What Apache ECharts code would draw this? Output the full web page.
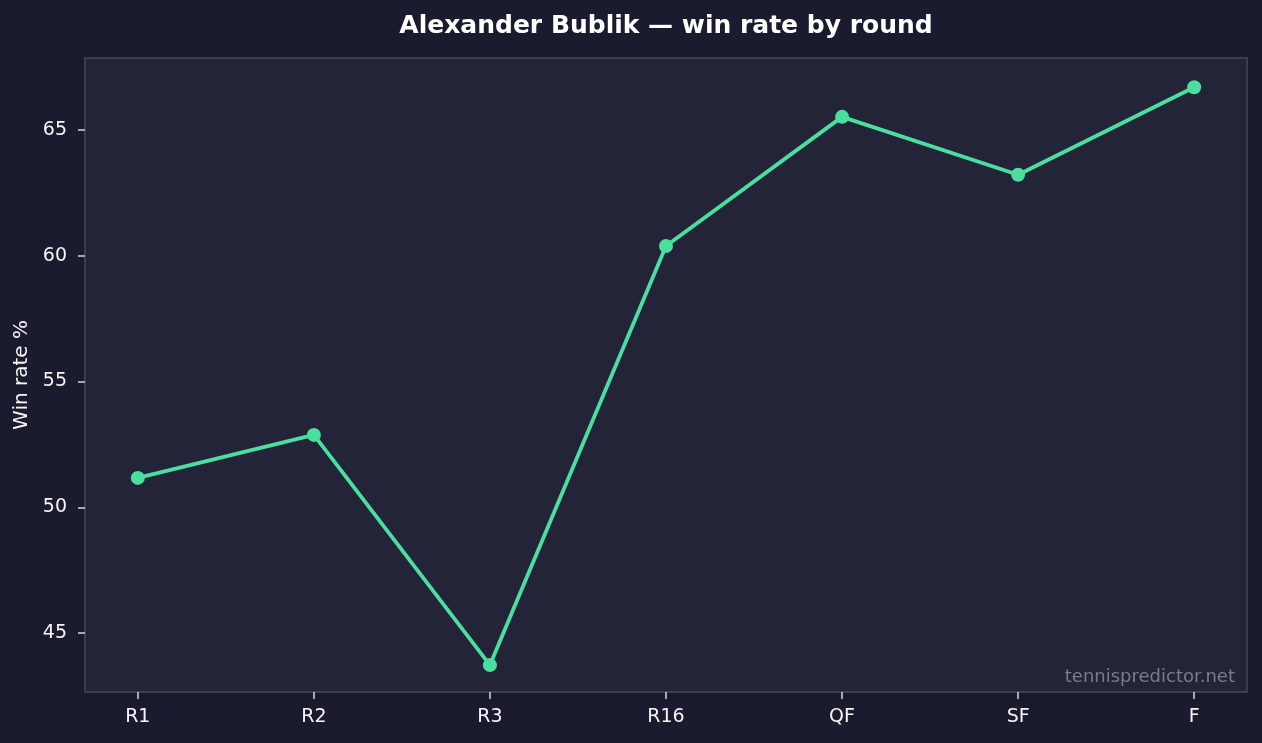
<!DOCTYPE html>
<html>
<head>
<meta charset="utf-8">
<script src="https://cdn.jsdelivr.net/npm/echarts@6/dist/echarts.min.js"></script>
<style>
html,body{margin:0;padding:0;background:#1a1b2e;}
#c{width:1262px;height:743px;}
</style>
</head>
<body>
<div id="c"></div>
<script>
const rounds = ['R1', 'R2', 'R3', 'R16', 'QF', 'SF', 'F'];
const winRate = [51.17, 52.88, 43.73, 60.39, 65.52, 63.22, 66.70];
const yTicks = [45, 50, 55, 60, 65];
const titleText = 'Alexander Bublik — win rate by round';
const yName = 'Win rate %';
const watermark = 'tennispredictor.net';

const xIdx = rounds.map((_, i) => i);
const seriesData = winRate.map((v, i) => [i, v]);
const FONT = 'DejaVu Sans';

const chart = echarts.init(document.getElementById('c'), null, {renderer: 'canvas'});
chart.setOption({
  backgroundColor: '#1a1b2e',
  animation: false,
  title: {
    text: titleText,
    left: 666,
    textAlign: 'center',
    top: 14,
    padding: 0,
    textStyle: {color: '#ffffff', fontFamily: FONT, fontWeight: 'bold', fontSize: 25}
  },
  grid: {
    left: 85, right: 15, top: 58, bottom: 51,
    containLabel: false,
    outerBoundsMode: 'none',
    show: true,
    backgroundColor: '#232438',
    borderColor: '#47485a',
    borderWidth: 1.5
  },
  xAxis: {
    type: 'value',
    min: -0.3,
    max: 6.3,
    splitLine: {show: false},
    axisLine: {show: false, onZero: false},
    axisTick: {show: true, customValues: xIdx, length: 7, lineStyle: {color: '#d8d8d8', width: 1.5}},
    axisLabel: {
      customValues: xIdx,
      formatter: v => rounds[Math.round(v)],
      color: '#f4f4f4', fontFamily: FONT, fontSize: 19, margin: 16
    }
  },
  yAxis: {
    type: 'value',
    min: 42.66,
    max: 67.86,
    name: yName,
    nameLocation: 'middle',
    nameGap: 51,
    nameRotate: 90,
    nameTextStyle: {color: '#f4f4f4', fontFamily: FONT, fontSize: 20},
    splitLine: {show: false},
    axisLine: {show: false, onZero: false},
    axisTick: {show: true, customValues: yTicks, length: 7, lineStyle: {color: '#d8d8d8', width: 1.5}},
    axisLabel: {
      customValues: yTicks,
      color: '#f4f4f4', fontFamily: FONT, fontSize: 19, margin: 18
    }
  },
  series: [{
    type: 'line',
    data: seriesData,
    symbol: 'circle',
    symbolSize: 14,
    lineStyle: {color: '#4ade9f', width: 3.8},
    itemStyle: {color: '#4ade9f'},
    z: 3
  }],
  graphic: [{
    type: 'text',
    x: 1235,
    y: 677,
    z: 10,
    style: {
      text: watermark,
      fill: '#7b7b8c',
      font: '18px "DejaVu Sans"',
      textAlign: 'right',
      textVerticalAlign: 'middle'
    }
  }]
});
</script>
</body>
</html>
